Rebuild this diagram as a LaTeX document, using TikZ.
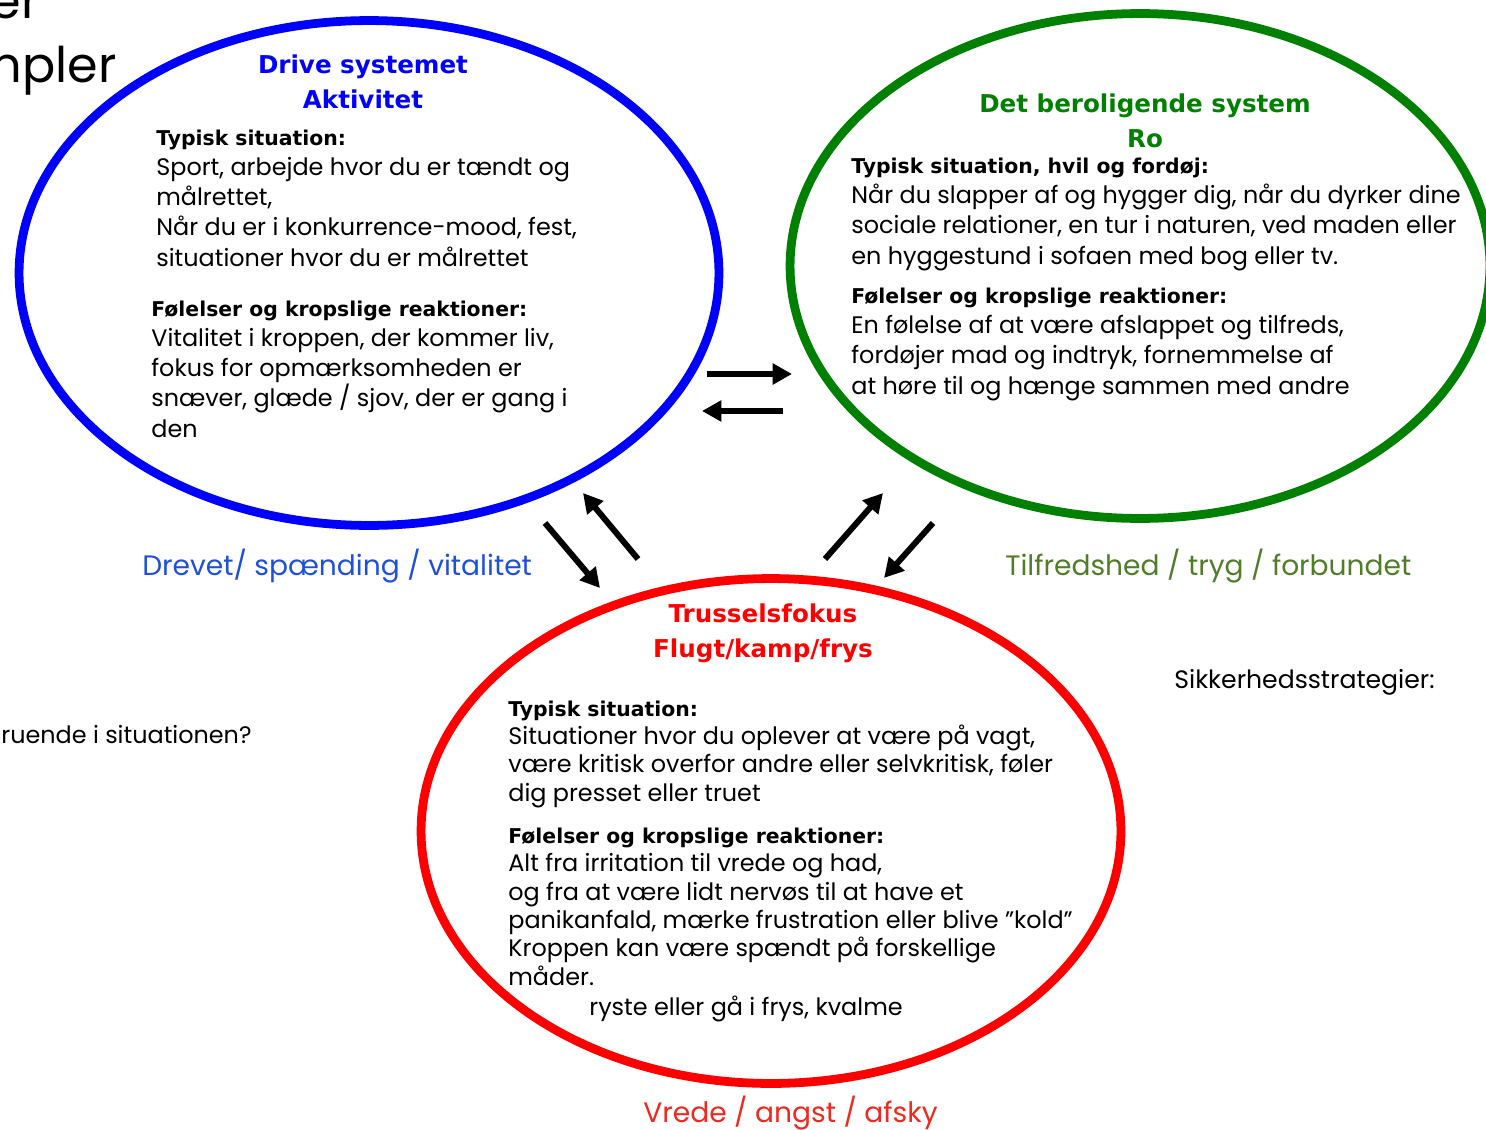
\documentclass[tikz,border=0pt]{standalone}
\usepackage{fontspec}
\setmainfont{Poppins}
\newfontfamily\headfont[Scale=0.853]{DejaVu Sans}
\usetikzlibrary{arrows.meta, positioning, shapes.geometric}

\definecolor{drivelabel}{RGB}{30,80,220}
\definecolor{calmlabel}{RGB}{80,125,40}
\definecolor{threatlabel}{RGB}{240,40,30}
\definecolor{calmgreen}{RGB}{0,128,0}
\newcommand{\headline}[1]{{\headfont\bfseries #1}}

\begin{document}
\begin{tikzpicture}[x=0.02cm, y=-0.02cm,
                system/.style={draw, ellipse, line width=5pt, minimum width=14cm, minimum height=10.1cm, inner sep=0pt},
                systitle/.style={font=\headfont\bfseries\fontsize{16.4}{19.5}\selectfont, align=center, anchor=base, inner sep=0pt},
                body/.style={font=\fontsize{13.6}{17.1}\selectfont, align=left, anchor=base west, inner sep=0pt},
                tightbody/.style={body, font=\fontsize{13.6}{16.1}\selectfont},
                feeling/.style={font=\fontsize{16}{20}\selectfont, anchor=base west, inner sep=0pt},
                flow/.style={-{Triangle[length=11pt,width=11.5pt]}, line width=3.4pt}]
                \useasboundingbox (0,0) rectangle (1486,1129);

                % Page text cut off at the left
                \node[font=\fontsize{28}{30}\selectfont, anchor=base east, inner sep=0pt] (pagetop) at (40,18) {er};
                \node[font=\fontsize{28}{30}\selectfont, anchor=base east, inner sep=0pt] (pagehead) at (117,82) {Eksempler};
                \node[body] (question) at (1,743) {ruende i situationen?};
                \node[body, font=\fontsize{14.3}{17.1}\selectfont] (safety) at (1174,688) {Sikkerhedsstrategier:};

                % Systems
                \node[system, draw=blue] (drive) at (369,273) {};
                \node[system, draw=calmgreen] (calm) at (1140,266) {};
                \node[system, draw=red] (threat) at (771,831) {};

                % Drive system (anchors sit on the last line)
                \node[systitle, blue] (drivetitle) at (363,108) {Drive systemet\\Aktivitet};
                \node[body] (drivesit) at (156,266) {\headline{Typisk situation:}\\
                  Sport, arbejde hvor du er tændt og\\målrettet,\\
                  Når du er i konkurrence-mood, fest,\\situationer hvor du er målrettet};
                \node[body] (drivefeel) at (151,437) {\headline{Følelser og kropslige reaktioner:}\\
                  Vitalitet i kroppen, der kommer liv,\\fokus for opmærksomheden er\\
                  snæver, glæde / sjov, der er gang i\\den};
                \node[feeling, drivelabel] (drivelbl) at (142,575) {Drevet/ spænding / vitalitet};

                % Soothing system
                \node[systitle, calmgreen] (calmtitle) at (1145,147) {Det beroligende system\\Ro};
                \node[body] (calmsit) at (851,264) {\headline{Typisk situation, hvil og fordøj:}\\
                  Når du slapper af og hygger dig, når du dyrker dine\\
                  sociale relationer, en tur i naturen, ved maden eller\\
                  en hyggestund i sofaen med bog eller tv.};
                \node[body] (calmfeel) at (851,394) {\headline{Følelser og kropslige reaktioner:}\\
                  En følelse af at være afslappet og tilfreds,\\
                  fordøjer mad og indtryk, fornemmelse af\\
                  at høre til og hænge sammen med andre};
                \node[feeling, calmlabel] (calmlbl) at (1005,575) {Tilfredshed / tryg / forbundet};

                % Threat system
                \node[systitle, red] (threattitle) at (763,657) {Trusselsfokus\\Flugt/kamp/frys};
                \node[tightbody] (threatsit) at (508,801) {\headline{Typisk situation:}\\
                  Situationer hvor du oplever at være på vagt,\\
                  være kritisk overfor andre eller selvkritisk, føler\\
                  dig presset eller truet};
                \node[tightbody] (threatfeel) at (508,985) {\headline{Følelser og kropslige reaktioner:}\\
                  Alt fra irritation til vrede og had,\\
                  og fra at være lidt nervøs til at have et\\
                  panikanfald, mærke frustration eller blive ”kold”\\
                  Kroppen kan være spændt på forskellige\\måder.};
                \node[body] (threatbody) at (589,1015) {ryste eller gå i frys, kvalme};
                \node[feeling, threatlabel] (threatlbl) at (643,1122) {Vrede / angst / afsky};

                % Arrow ends
                \coordinate (dc1) at (707,374);  \coordinate (dc2) at (792,374);
                \coordinate (cd1) at (783,411);  \coordinate (cd2) at (702,411);
                \coordinate (dt1) at (545,523);  \coordinate (dt2) at (600,588);
                \coordinate (td1) at (638,559);  \coordinate (td2) at (583,493);
                \coordinate (tc1) at (825,559);  \coordinate (tc2) at (883,493);
                \coordinate (ct1) at (933,523);  \coordinate (ct2) at (884,578);

                % Arrows
                \draw[flow] (dc1) -- (dc2);
                \draw[flow] (cd1) -- (cd2);
                \draw[flow] (dt1) -- (dt2);
                \draw[flow] (td1) -- (td2);
                \draw[flow] (tc1) -- (tc2);
                \draw[flow] (ct1) -- (ct2);
\end{tikzpicture}
\end{document}
